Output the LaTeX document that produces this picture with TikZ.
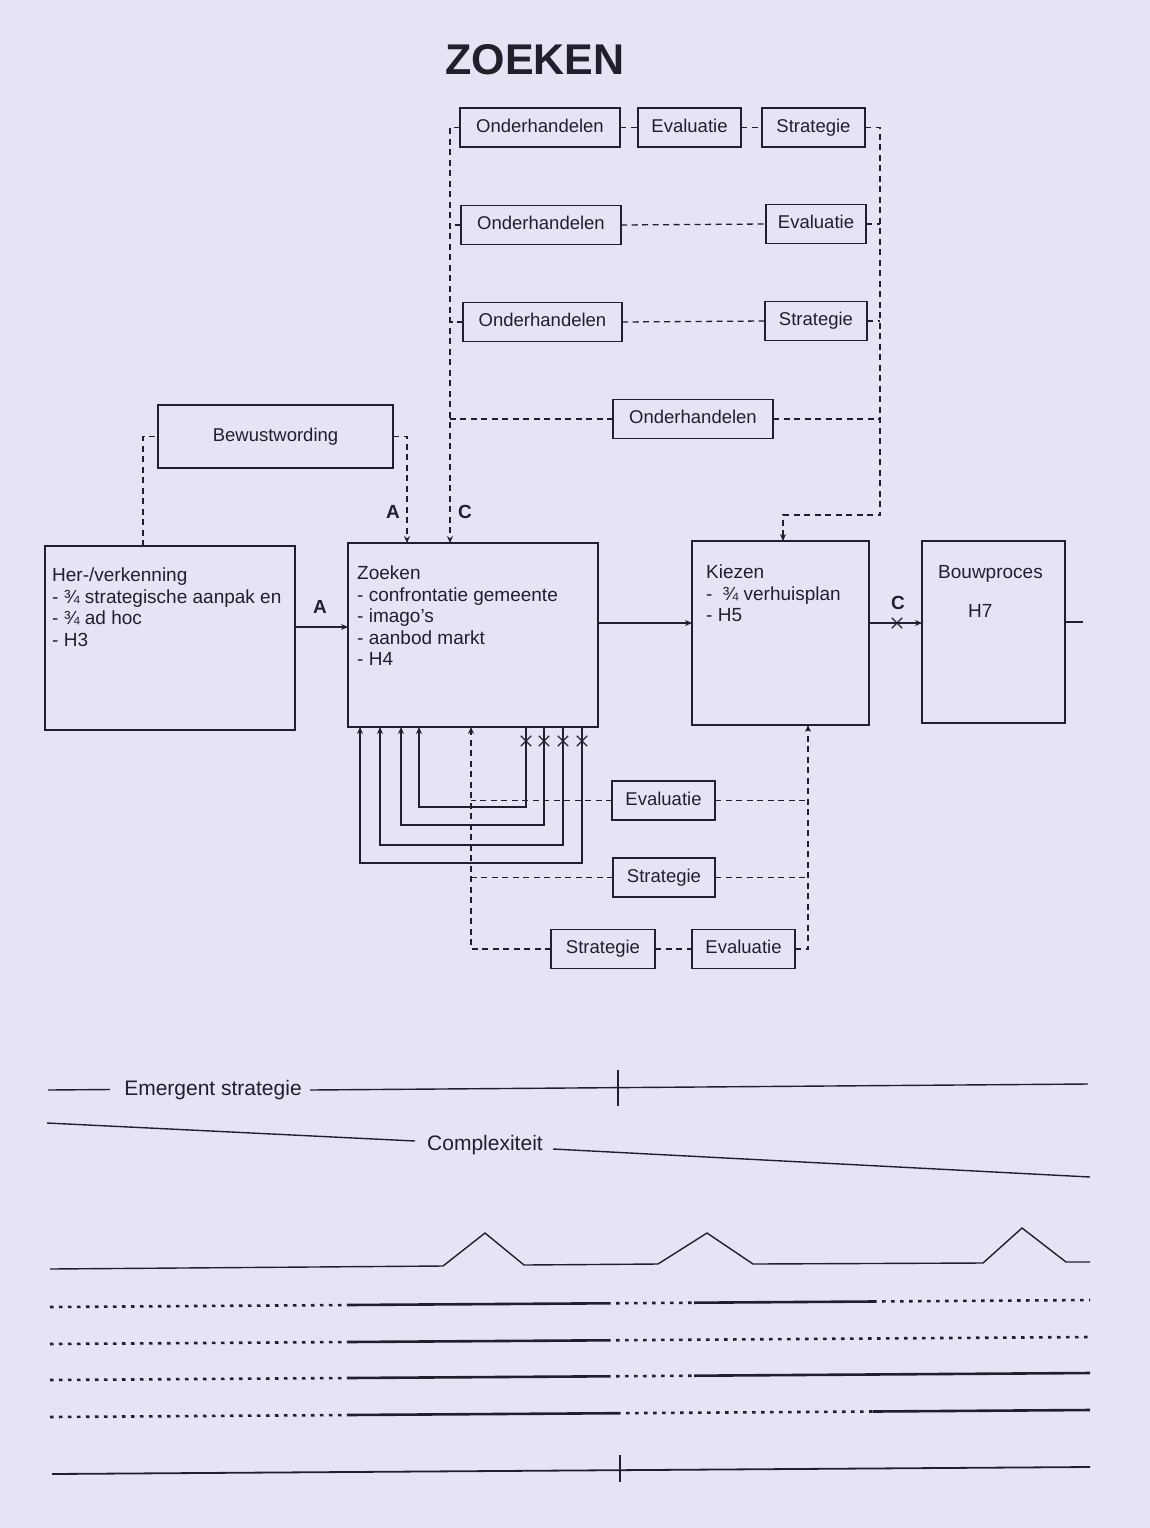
\documentclass[tikz,border=0pt]{standalone}
\usepackage{fontspec}
\setmainfont{Liberation Sans}
\usetikzlibrary{arrows.meta,calc,shapes.misc}
\definecolor{bg}{RGB}{228,228,245}
\definecolor{ink}{RGB}{32,32,44}
\begin{document}
\begin{tikzpicture}[x=1pt,y=-1pt,
  bigbox/.style={draw=ink,line width=2.2pt,inner sep=0pt,outer sep=0pt},
  smallbox/.style={draw=ink,line width=1.8pt,inner sep=0pt,outer sep=0pt,minimum height=39pt,text height=13.5pt,text depth=4pt,font=\fontsize{18.5}{22}\selectfont,text=ink},
  dsh/.style={draw=ink,line width=1.3pt,dash pattern=on 6pt off 4.5pt},
  sol/.style={draw=ink,line width=1.4pt},
  tip/.style={-{Stealth[length=7pt,width=6pt]}},
  txt/.style={font=\fontsize{19}{21.5}\selectfont,text=ink,align=left,inner sep=0pt,anchor=north west},
  lbl/.style={font=\bfseries\fontsize{19}{22}\selectfont,text=ink,inner sep=0pt},
  bt/.style={font=\fontsize{21}{24}\selectfont,text=ink,inner sep=0pt},
  xmark/.style={cross out,draw=ink,line width=1.3pt,minimum size=9pt,inner sep=0pt},
  thick line/.style={draw=ink,line width=2.6pt},
  dotline/.style={draw=ink,line width=2.6pt,dash pattern=on 3.5pt off 5.5pt},
]
\fill[bg] (0,0) rectangle (1150,1528);
\useasboundingbox (0,0) rectangle (1150,1528);

% title
\node[font=\bfseries\fontsize{43}{50}\selectfont,text=ink,inner sep=0pt] (title) at (535,60) {ZOEKEN};

% main boxes
\node[bigbox,minimum width=250pt,minimum height=184pt] (her) at (170,638) {};
\node[bigbox,minimum width=250pt,minimum height=184pt] (zoek) at (473,635) {};
\node[bigbox,minimum width=177pt,minimum height=184pt] (kies) at (780.5,633) {};
\node[bigbox,minimum width=143pt,minimum height=182pt] (bouw) at (993.5,632) {};

\node[txt] (hertxt) at (52,568) {Her-/verkenning\\- ¾ strategische aanpak en\\- ¾ ad hoc\\- H3};
\node[txt] (zoektxt) at (357,566) {Zoeken\\- confrontatie gemeente\\- imago's\\- aanbod markt\\- H4};
\node[txt] (kiestxt) at (706,565) {Kiezen\\-\hspace{10pt}¾ verhuisplan\\- H5};
\node[txt] (bouwtxt) at (938,565) {Bouwproces};
\node[txt] (h7) at (968,604) {H7};

% top boxes
\node[smallbox,minimum width=160pt] (on1) at (540,127.5) {Onderhandelen};
\node[smallbox,minimum width=103pt] (ev1) at (689.5,127.5) {Evaluatie};
\node[smallbox,minimum width=103pt] (st1) at (813.5,127.5) {Strategie};
\node[smallbox,minimum width=160pt] (on2) at (541,225) {Onderhandelen};
\node[smallbox,minimum width=100pt] (ev2) at (816,224) {Evaluatie};
\node[smallbox,minimum width=159pt] (on3) at (542.5,322) {Onderhandelen};
\node[smallbox,minimum width=102pt] (st3) at (816,321) {Strategie};
\node[smallbox,minimum width=160pt] (on4) at (693,419) {Onderhandelen};
\node[smallbox,minimum width=235pt,minimum height=63pt] (bew) at (275.5,436.5) {Bewustwording};

% bottom boxes
\node[smallbox,minimum width=103pt] (evB) at (663.5,800.5) {Evaluatie};
\node[smallbox,minimum width=102pt] (stB) at (664,877.5) {Strategie};
\node[smallbox,minimum width=104pt] (stC) at (603,949) {Strategie};
\node[smallbox,minimum width=103pt] (evC) at (743.5,949) {Evaluatie};

% main flow
\draw[sol,tip] ([yshift=11pt]her.east) -- ([yshift=11pt]her.east -| zoek.west);
\node[lbl] (la1) at (320,607) {A};
\draw[sol,tip] ([yshift=12pt]zoek.east) -- ([yshift=12pt]zoek.east -| kies.west);
\draw[sol,tip] ([yshift=10pt]kies.east) -- ([yshift=10pt]kies.east -| bouw.west);
\node[xmark] (xc) at (897,623) {};
\node[lbl] (lc2) at (898,603) {C};
\coordinate (bout) at (1083,622);
\draw[sol] ([yshift=10pt]bouw.east) -- (bout);

% Bewustwording
\coordinate (bL) at (143,436.5);
\coordinate (bR) at (407,436.5);
\draw[dsh] (her.north -| bL) -- (bL) -- (bew.west);
\draw[dsh,tip] (bew.east) -- (bR) -- (zoek.north -| bR);
\node[lbl] (la2) at (393,512) {A};
\node[lbl] (lc1) at (465,512) {C};

% left dashed trunk (C)
\coordinate (cT) at (450,127.5);
\draw[dsh,tip] (on1.west) -- (cT) -- (zoek.north -| cT);
\draw[dsh] (on2.west) -- (on2.west -| cT);
\draw[dsh] (on3.west) -- (on3.west -| cT);
\draw[dsh] (on4.west) -- (on4.west -| cT);

% rows
\draw[dsh] (on1.east) -- (ev1.west);
\draw[dsh] (ev1.east) -- (st1.west);
\draw[dsh] (on2.east) -- (ev2.west);
\draw[dsh] (on3.east) -- (st3.west);

% right dashed trunk
\coordinate (rT) at (880,127.5);
\coordinate (rB) at (880,515);
\coordinate (kT) at (783,515);
\draw[dsh,tip] (st1.east) -- (rT) -- (rB) -- (kT) -- (kies.north -| kT);
\draw[dsh] (ev2.east) -- (ev2.east -| rT);
\draw[dsh] (st3.east) -- (st3.east -| rT);
\draw[dsh] (on4.east) -- (on4.east -| rT);

% bottom dashed feedback
\coordinate (fL) at (471,949);
\coordinate (fR) at (808,949);
\draw[dsh,tip] (stC.west) -- (fL) -- (zoek.south -| fL);
\draw[dsh] (stC.east) -- (evC.west);
\draw[dsh,tip] (evC.east) -- (fR) -- (kies.south -| fR);
\draw[dsh] (evB.west) -- (evB.west -| fL);
\draw[dsh] (evB.east) -- (evB.east -| fR);
\draw[dsh] (stB.west) -- (stB.west -| fL);
\draw[dsh] (stB.east) -- (stB.east -| fR);

% solid loops with crosses
\foreach \a/\b/\y/\n in {526/419/807/1, 544/401/825/2, 563/380/845/3, 582/360/863/4}{
  \draw[sol,tip] (zoek.south -| \a,0) -- (\a,\y) -- (\b,\y) -- (zoek.south -| \b,0);
  \node[xmark] (x\n) at (\a,741) {};
}

% lower graph
\draw[sol] (48,1090) -- (110,1089.5);
\node[bt] (es) at (213,1090) {Emergent strategie};
\draw[sol] (310,1090) -- (1088,1084);
\draw[sol] (618,1070) -- (618,1106);

\draw[sol] (47,1123) -- (415,1141);
\node[bt] (cx) at (485,1145) {Complexiteit};
\draw[sol] (553,1149) -- (1090,1177);

\draw[sol] (50,1269) -- (443,1266) -- (485,1233) -- (524,1265) -- (658,1264) -- (707,1233) -- (753,1264) -- (983,1263) -- (1022,1228) -- (1066,1262) -- (1090,1262);

% line a
\draw[dotline] (50,1307) -- (347,1305);
\draw[thick line] (347,1305) -- (607,1303.3);
\draw[dotline] (607,1303.3) -- (694,1302.7);
\draw[thick line] (694,1302.7) -- (873,1301.5);
\draw[dotline] (873,1301.5) -- (1090,1300);
% line b
\draw[dotline] (50,1344) -- (347,1342);
\draw[thick line] (347,1342) -- (607,1340.3);
\draw[dotline] (607,1340.3) -- (1090,1337);
% line c
\draw[dotline] (50,1380) -- (347,1378);
\draw[thick line] (347,1378) -- (607,1376.3);
\draw[dotline] (607,1376.3) -- (694,1375.7);
\draw[thick line] (694,1375.7) -- (1090,1373);
% line d
\draw[dotline] (50,1417) -- (347,1415);
\draw[thick line] (347,1415) -- (617,1413.2);
\draw[dotline] (617,1413.2) -- (873,1411.5);
\draw[thick line] (873,1411.5) -- (1090,1410);
% bottom line
\draw[sol,line width=1.8pt] (52,1474) -- (1090,1467);
\draw[sol] (620,1455) -- (620,1482);
\end{tikzpicture}
\end{document}
